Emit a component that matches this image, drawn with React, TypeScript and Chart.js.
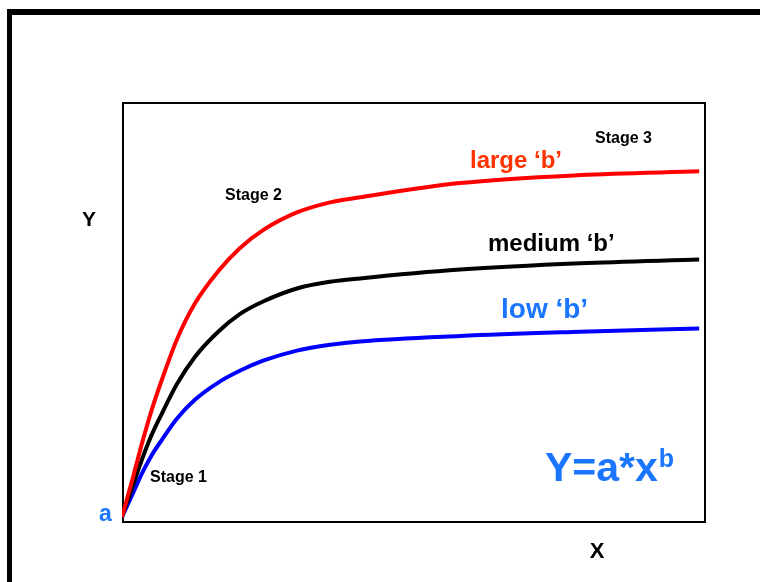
import React, { useEffect, useRef } from "react";
import { Chart, registerables } from "chart.js";

Chart.register(...registerables);

// X positions (0-100 relative scale)
const X_VALUES = [0, 1.9, 3.4, 5.1, 6.9, 9.4, 12.5, 16.5, 20.2, 24.2, 30.0, 35.7, 40.8, 58.0, 78.6, 99.0];
// Y values for the three curves (0-100 relative scale)
const LARGE_B = [1.2, 10.7, 18.6, 26.7, 34.1, 43.4, 52.0, 59.7, 65.2, 69.5, 73.7, 76.1, 77.3, 80.7, 82.6, 83.5];
const MEDIUM_B = [1.2, 8.8, 14.8, 20.8, 26.0, 32.8, 39.3, 45.3, 49.5, 52.5, 55.6, 57.2, 58.0, 60.1, 61.6, 62.5];
const LOW_B = [1.2, 6.9, 11.5, 15.9, 19.7, 24.6, 29.1, 33.2, 36.0, 38.4, 40.8, 42.2, 43.0, 44.3, 45.3, 46.1];

const SERIES_LABELS = ["large \u2018b\u2019", "medium \u2018b\u2019", "low \u2018b\u2019"];
const FONT = "'Liberation Sans', Arial, Helvetica, sans-serif";

const toPoints = (ys: number[]) => X_VALUES.map((x, i) => ({ x, y: ys[i] }));

const decorPlugin = {
  id: "decor",
  beforeDatasetsDraw(chart: any) {
    const ctx = chart.ctx;
    const ca = chart.chartArea;
    ctx.save();
    // outer frame
    ctx.fillStyle = "#000";
    ctx.fillRect(7, 9, 753, 6);
    ctx.fillRect(7, 9, 5, 573);
    // plot box
    ctx.strokeStyle = "#000";
    ctx.lineWidth = 2;
    ctx.strokeRect(ca.left + 1, ca.top + 1, ca.width - 1, ca.height - 1);
    ctx.restore();
  },
  afterDatasetsDraw(chart: any) {
    const ctx = chart.ctx;
    ctx.save();
    ctx.textBaseline = "alphabetic";
    ctx.textAlign = "left";
    const txt = (s: string, x: number, y: number, size: number, color: string) => {
      ctx.font = `bold ${size}px ${FONT}`;
      ctx.fillStyle = color;
      ctx.fillText(s, x, y);
    };
    // series labels
    txt(SERIES_LABELS[0], 470, 168, 24, "#ff3300");
    txt(SERIES_LABELS[1], 488, 251, 24, "#000000");
    txt(SERIES_LABELS[2], 501, 318, 28, "#1a75ff");
    // stage labels
    txt("Stage 1", 150, 482, 16, "#000");
    txt("Stage 2", 225, 200, 16, "#000");
    txt("Stage 3", 595, 143, 16, "#000");
    // axis letters
    ctx.textAlign = "center";
    txt("Y", 89, 226, 21, "#000");
    txt("X", 597, 558, 22, "#000");
    ctx.textAlign = "left";
    txt("a", 99, 521, 23, "#1a75ff");
    // formula
    ctx.font = `bold 41px ${FONT}`;
    const base = "Y=a*x";
    const w = ctx.measureText(base).width;
    txt(base, 545, 481, 41, "#1a75ff");
    txt("b", 545 + w + 1, 467, 25, "#1a75ff");
    ctx.restore();
  },
};

export default function App() {
  const ref = useRef<HTMLCanvasElement | null>(null);
  useEffect(() => {
    if (!ref.current) return;
    const common = { borderWidth: 4, pointRadius: 0, cubicInterpolationMode: "monotone", fill: false };
    const chart = new Chart(ref.current, {
      type: "line",
      data: {
        datasets: [
          { label: SERIES_LABELS[0], data: toPoints(LARGE_B), borderColor: "#ff0000", ...common },
          { label: SERIES_LABELS[1], data: toPoints(MEDIUM_B), borderColor: "#000000", ...common },
          { label: SERIES_LABELS[2], data: toPoints(LOW_B), borderColor: "#0000ff", ...common },
        ],
      },
      options: {
        animation: false,
        responsive: false,
        devicePixelRatio: 1,
        layout: { padding: { left: 122, top: 102, right: 55, bottom: 60 } },
        plugins: { legend: { display: false }, tooltip: { enabled: false } },
        scales: {
          x: { type: "linear", min: 0, max: 100, display: false },
          y: { type: "linear", min: 0, max: 100, display: false },
        },
      },
      plugins: [decorPlugin],
    } as any);
    return () => chart.destroy();
  }, []);
  return (
    <div style={{ position: "fixed", left: 0, top: 0, width: 760, height: 582, background: "#fff" }}>
      <canvas ref={ref} width={760} height={582} style={{ display: "block" }} />
    </div>
  );
}
